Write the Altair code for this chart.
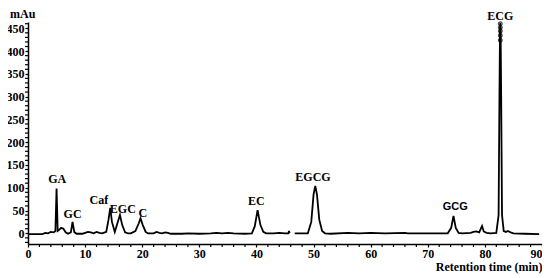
import altair as alt
import pandas as pd

# Chromatogram trace (retention time in min, absorbance in mAu)
seg_a_t = [0, 2.5, 3.0, 3.5, 4.0, 4.5, 4.8, 5.0, 5.2, 5.5, 5.8, 6.2, 6.6, 7.0, 7.5, 7.8, 8.1, 8.5,
           9.5, 10.0, 10.5, 11.0, 11.5, 12.0, 12.5, 13.0, 13.7, 14.1, 14.4, 14.7, 15.2, 15.6, 16.1,
           16.5, 17.0, 17.5, 18.0, 18.8, 19.4, 19.7, 20.1, 20.6, 21.0, 22.0, 22.5, 23.0, 23.5, 24.0,
           24.5, 25.0, 27.0, 28.0, 30.0, 32.0, 33.0, 34.0, 35.0, 36.0, 38.0, 39.2, 39.7, 40.2, 40.7,
           41.2, 41.7, 43.0, 44.0, 45.0, 45.6, 45.7, 45.8]
seg_a_v = [-2, -2, 1, 0, 3, 2, 5, 98, 5, 8, 12, 10, 2, -1, 2, 25, 3, -1,
           -1, 1, 3, 2, 0, 3, 1, 0, 3, 30, 56, 25, 3, 20, 40,
           18, 2, 0, 0, 5, 22, 33, 18, 3, 0, 0, 3, 1, 0, 2,
           1, -1, -1, 0, -1, 0, 1, 0, 1, 0, -1, 0, 15, 51, 18,
           3, 0, 0, 1, 0, 0, 5, 0]
seg_b_t = [46.7, 48.0, 49.0, 49.6, 50.0, 50.3, 50.6, 51.0, 51.5, 52.0, 53.0, 56.0, 58.0, 60.0,
           62.5, 66.0, 66.5, 70.0, 73.5, 74.1, 74.5, 74.9, 75.4, 76.0, 77.5, 78.0, 78.5, 79.0,
           79.5, 79.8, 80.3, 81.0, 82.0, 82.4, 82.55, 82.65, 82.7, 82.75, 82.85, 83.0, 83.3,
           83.7, 84.0, 84.5, 85.0, 87.0, 89.5]
seg_b_v = [0, 0, 0, 25, 85, 104, 85, 30, 5, 0, -1, 1, 0, 1,
           0, 1, 0, 0, 0, 12, 38, 12, 1, 0, 1, 3, 4, 2,
           16, 4, 1, 0, 1, 40, 300, 450, 462, 450, 300, 40, 5,
           3, 5, 2, 0, -1, -2]

# Peak labels
peak_names = ["GA", "GC", "Caf", "EGC", "C", "EC", "EGCG", "GCG", "ECG"]
peak_label_t = [5.1, 7.8, 12.4, 16.6, 20.1, 40.0, 49.9, 74.8, 82.7]
peak_label_v = [120, 42, 74, 53, 44, 70, 124, 57, 477]

# Circles at the ECG peak top
ecg_mark_t = [82.7, 82.7, 82.7, 82.7, 82.7]
ecg_mark_v = [460, 452, 444, 434, 424]

x_major = list(range(0, 91, 10))
y_major = list(range(0, 451, 50))
x_minor = [t for t in range(0, 91, 2) if t % 10 != 0]
y_minor = [v for v in range(-20, 461, 10) if v % 50 != 0 or v < 0]

trace = pd.DataFrame({
    "t": seg_a_t + seg_b_t,
    "v": seg_a_v + seg_b_v,
    "seg": ["a"] * len(seg_a_t) + ["b"] * len(seg_b_t),
})
labels = pd.DataFrame({"t": peak_label_t, "v": peak_label_v, "name": peak_names,
                       "font": ["Liberation Serif"] * 7 + ["Liberation Sans", "Liberation Serif"]})
marks = pd.DataFrame({"t": ecg_mark_t, "v": ecg_mark_v})

serif = "Liberation Serif"
xscale = alt.Scale(domain=[0, 90], nice=False, zero=False)
yscale = alt.Scale(domain=[-23.5, 463.8], nice=False, zero=False)

x_axis = alt.Axis(values=x_major, title="Retention time (min)", titleAnchor="end",
                  titleFont=serif, titleFontWeight="bold", titleFontSize=12, titlePadding=2,
                  labelFont=serif, labelFontWeight="bold", labelFontSize=12, labelPadding=1,
                  labelOverlap=False, tickSize=3, tickWidth=1.2, tickColor="black",
                  domainColor="black", domainWidth=1.5, labelColor="black",
                  titleColor="black", grid=False, labelFlush=False,
                  labelAlign={"condition": {"test": "datum.value == 90", "value": "right"},
                              "value": "center"})
y_axis = alt.Axis(values=y_major, title=None, labelFont=serif, labelFontWeight="bold",
                  labelFontSize=12, labelPadding=1, labelOverlap=False, tickSize=3,
                  tickWidth=1.2, tickColor="black", domainColor="black", domainWidth=1.5,
                  labelColor="black", grid=False)

X = lambda f: alt.X(f, scale=xscale, axis=x_axis)
Y = lambda f: alt.Y(f, scale=yscale, axis=y_axis)

line = alt.Chart(trace).mark_line(color="black", strokeWidth=1.8, clip=True).encode(
    x=X("t:Q"), y=Y("v:Q"), detail="seg:N", order="t:Q")

xminor = alt.Chart(pd.DataFrame({"t": x_minor})).mark_rule(color="black", strokeWidth=1.2).encode(
    x=X("t:Q"), y=alt.value(222), y2=alt.value(225))
yminor = alt.Chart(pd.DataFrame({"v": y_minor})).mark_rule(color="black", strokeWidth=1.2).encode(
    y=Y("v:Q"), x=alt.value(-3), x2=alt.value(0))

pts = alt.Chart(marks).mark_point(shape="circle", size=14, color="black", filled=False,
                                  strokeWidth=1.2).encode(x=X("t:Q"), y=Y("v:Q"))

text_serif = alt.Chart(labels).transform_filter("datum.font == 'Liberation Serif'").mark_text(
    font=serif, fontWeight="bold", fontSize=12, color="black", baseline="middle"
).encode(x=X("t:Q"), y=Y("v:Q"), text="name:N")

text_sans = alt.Chart(labels).transform_filter("datum.font == 'Liberation Sans'").mark_text(
    font="Liberation Sans", fontWeight="bold", fontSize=11, color="black", baseline="middle"
).encode(x=X("t:Q"), y=Y("v:Q"), text="name:N")

unit = alt.Chart(pd.DataFrame({"u": ["mAu"]})).mark_text(
    font=serif, fontWeight="bold", fontSize=12, color="black", align="left", baseline="top"
).encode(x=alt.value(-18), y=alt.value(-13), text="u:N")

chart = alt.layer(line, xminor, yminor, pts, text_serif, text_sans, unit).properties(
    width=514, height=222,
    autosize=alt.AutoSizeParams(type="none"),
    padding={"left": 20, "top": 14, "right": 0, "bottom": 34},
    background="white",
).configure_view(stroke=None)

chart.save("out.html", embed_options={"renderer": "svg", "actions": False})
